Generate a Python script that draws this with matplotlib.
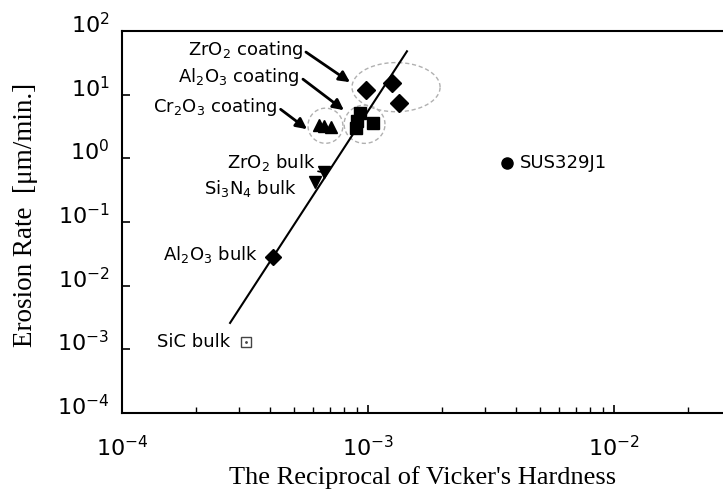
import matplotlib
matplotlib.use("Agg")
import matplotlib.pyplot as plt
import matplotlib.transforms as mtransforms
import numpy as np
from matplotlib.ticker import LogLocator, NullLocator, LogFormatterMathtext

# =============================================================================
# Data
# =============================================================================

# ZrO2 coating (diamonds)
zro2_coat_x = [9.8e-4, 1.25e-3, 1.34e-3]
zro2_coat_y = [11.8, 15.2, 7.3]

# Al2O3 coating (squares)
al2o3_coat_x = [9.3e-4, 9.0e-4, 8.9e-4, 1.05e-3]
al2o3_coat_y = [5.1, 3.8, 3.0, 3.6]

# Cr2O3 coating (triangles)
cr2o3_coat_x = [6.3e-4, 6.6e-4, 7.1e-4]
cr2o3_coat_y = [3.3, 3.2, 3.1]

# bulk materials
zro2_bulk = (6.6e-4, 0.60)
si3n4_bulk = (6.1e-4, 0.42)
al2o3_bulk = (4.1e-4, 0.028)
sic_bulk = (3.2e-4, 1.3e-3)
sus329 = (3.67e-3, 0.86)

# regression line end points
fit_x = [2.75e-4, 1.44e-3]
fit_y = [2.6e-3, 48.0]

# dashed groups: centre (log x, log y), half axes in decades
groups = {
    "zro2": (-2.886, 1.118, 0.179, 0.386),
    "al2o3": (-3.014, 0.535, 0.083, 0.30),
    "cr2o3": (-3.173, 0.512, 0.071, 0.276),
}

x_ticks = [1e-4, 1e-3, 1e-2]
y_ticks = [1e-4, 1e-3, 1e-2, 1e-1, 1e0, 1e1, 1e2]

# =============================================================================
# Plot
# =============================================================================

fig = plt.figure(figsize=(7.23, 4.9), dpi=100)
ax = fig.add_axes([122 / 723, 1 - 413 / 490, 1 - 122 / 723, (413 - 31) / 490])

ax.set_xscale("log")
ax.set_yscale("log")
ax.set_xlim(1e-4, 10 ** -1.557)
ax.set_ylim(1e-4, 1e2)

# ellipses around coating groups
t = np.linspace(0, 2 * np.pi, 200)
for cx, cy, hw, hh in groups.values():
    ax.plot(10 ** (cx + hw * np.cos(t)), 10 ** (cy + hh * np.sin(t)),
            linestyle=(0, (3, 2)), color="#b0b0b0", lw=1.0, zorder=1)

ax.plot(fit_x, fit_y, color="black", lw=1.5, zorder=2)

ax.plot(zro2_coat_x, zro2_coat_y, "D", color="black", markersize=9, zorder=3)
ax.plot(al2o3_coat_x, al2o3_coat_y, "s", color="black", markersize=9, zorder=3)
ax.plot(cr2o3_coat_x, cr2o3_coat_y, "^", color="black", markersize=8, zorder=3)
ax.plot(*zro2_bulk, "v", color="black", markersize=8, zorder=3)
ax.plot(*si3n4_bulk, "v", color="black", markersize=8, zorder=3)
ax.plot(*al2o3_bulk, "D", color="black", markersize=8, zorder=3)
ax.plot(*sic_bulk, "s", markerfacecolor="white", markeredgecolor="#444444",
        markeredgewidth=1.0, markersize=7, zorder=3)
ax.plot(*sic_bulk, ".", color="#444444", markersize=2, zorder=4)
ax.plot(*sus329, "o", color="black", markersize=8, zorder=3)

# annotations
fs = 13
arrow = dict(arrowstyle="-|>", color="black", lw=2, mutation_scale=16,
             shrinkA=0, shrinkB=0, relpos=(1.0, 0.5))
ax.annotate("ZrO$_2$ coating", xy=(8.45e-4, 15.7), xytext=(5.45e-4, 50),
            ha="right", va="center", fontsize=fs, arrowprops=arrow)
ax.annotate("Al$_2$O$_3$ coating", xy=(7.98e-4, 5.7), xytext=(5.3e-4, 18.9),
            ha="right", va="center", fontsize=fs, arrowprops=arrow)
ax.annotate("Cr$_2$O$_3$ coating", xy=(5.65e-4, 2.87), xytext=(4.3e-4, 6.35),
            ha="right", va="center", fontsize=fs, arrowprops=arrow)
ax.annotate("ZrO$_2$ bulk", xy=zro2_bulk, xytext=(6.1e-4, 0.865),
            ha="right", va="center", fontsize=fs,
            arrowprops=dict(arrowstyle="-", color="black", lw=1.2,
                            shrinkA=0, shrinkB=0, relpos=(1.0, 0.1)))
ax.text(5.14e-4, 0.337, "Si$_3$N$_4$ bulk", ha="right", va="center", fontsize=fs)
ax.text(3.57e-4, 0.0308, "Al$_2$O$_3$ bulk", ha="right", va="center", fontsize=fs)
ax.text(2.75e-4, 1.32e-3, "SiC bulk", ha="right", va="center", fontsize=fs)
ax.text(4.15e-3, 0.86, "SUS329J1", ha="left", va="center", fontsize=fs)

# axes styling
ax.set_xticks(x_ticks)
ax.set_yticks(y_ticks)
ax.xaxis.set_major_formatter(LogFormatterMathtext())
ax.yaxis.set_major_formatter(LogFormatterMathtext())
ax.xaxis.set_minor_locator(LogLocator(base=10, subs=np.arange(2, 10)))
ax.xaxis.set_minor_formatter(plt.NullFormatter())
ax.yaxis.set_minor_locator(NullLocator())

ax.tick_params(axis="both", which="major", direction="in", length=6,
               width=1.2, labelsize=16)
ax.tick_params(axis="x", which="major", pad=16)
ax.tick_params(axis="y", which="major", pad=9)
ax.tick_params(axis="x", which="minor", direction="in", length=4, width=1.0)
ax.tick_params(top=False, right=False, which="both")

# y tick labels sit a little above their ticks in the original
shift = mtransforms.ScaledTranslation(0, 6 / 72, fig.dpi_scale_trans)
for lab in ax.get_yticklabels():
    lab.set_transform(lab.get_transform() + shift)

ax.spines["right"].set_visible(False)
for s in ("left", "bottom", "top"):
    ax.spines[s].set_linewidth(1.5)

ax.set_xlabel("The Reciprocal of Vicker's Hardness", family="Liberation Serif",
              fontsize=19, labelpad=4)
ax.set_ylabel("Erosion Rate  [\u03bcm/min.]", family="Liberation Serif",
              fontsize=19.5)
ax.yaxis.set_label_coords(-0.14, 0.518)

fig.savefig("out.png", dpi=100)
